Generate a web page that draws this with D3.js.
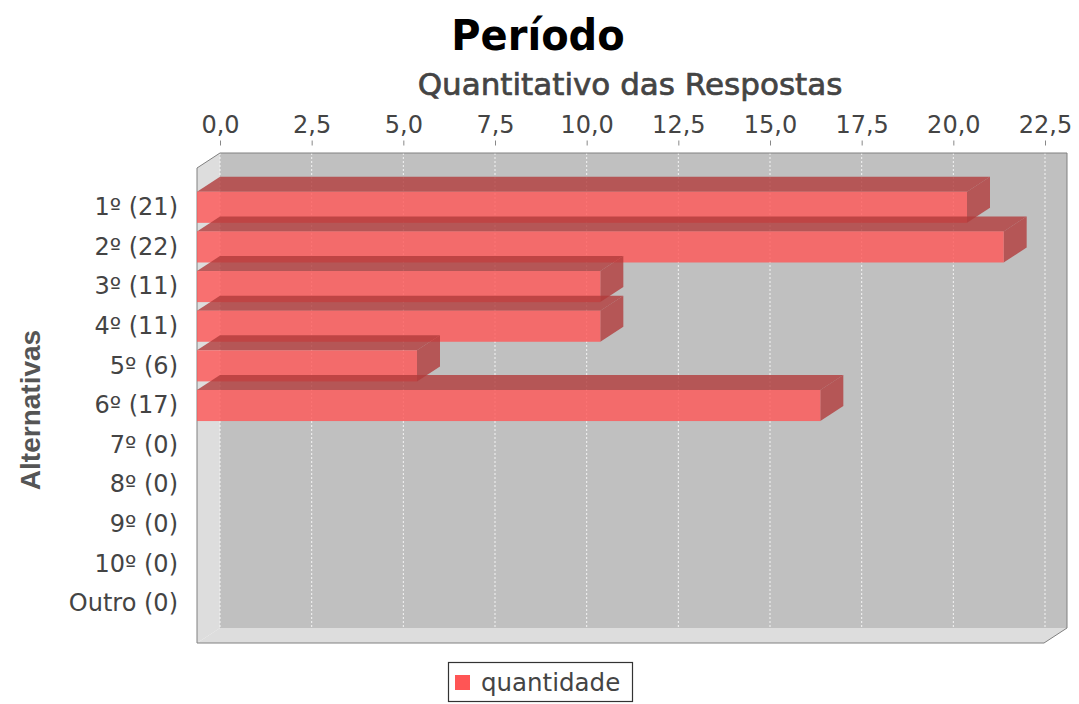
<!DOCTYPE html>
<html><head><meta charset="utf-8">
<script src="https://cdn.jsdelivr.net/npm/d3@7"></script>
<style>html,body{margin:0;padding:0;background:#fff}svg{display:block}</style>
</head><body>
<script>
// ---- data ----
const categories = ["1º (21)","2º (22)","3º (11)","4º (11)","5º (6)","6º (17)","7º (0)","8º (0)","9º (0)","10º (0)","Outro (0)"];
const values = [21,22,11,11,6,17,0,0,0,0,0];
const xTicks = [0,2.5,5,7.5,10,12.5,15,17.5,20,22.5];
const seriesName = "quantidade";
const chartTitle = "Período";
const xTitle = "Quantitativo das Respostas";
const yTitle = "Alternativas";

const W = 1079, H = 704;
const svg = d3.select("body").append("svg").attr("width", W).attr("height", H);

// plot geometry (front face and 3D offset)
const fx0 = 197, fx1 = 1044, fy0 = 168, fy1 = 643;
const dx = 23, dy = -15;
const xMax = 23.1;

const xFront = d3.scaleLinear().domain([0, xMax]).range([fx0, fx1]);
const xRear = d3.scaleLinear().domain([0, xMax]).range([fx0 + dx, fx1 + dx]);
const y = d3.scaleBand().domain(categories).range([fy0, fy1])
  .paddingInner(0.2157).paddingOuter(0.599);

const base = "#ff5555", dark = "#b23b3b", alpha = 0.8;

// walls
const g = svg.append("g");
g.append("rect").attr("x", fx0 + dx).attr("y", fy0 + dy)
  .attr("width", fx1 - fx0).attr("height", fy1 - fy0).attr("fill", "#c0c0c0");
g.append("path").attr("d", `M${fx0},${fy0}L${fx0+dx},${fy0+dy}L${fx0+dx},${fy1+dy}L${fx0},${fy1}Z`).attr("fill", "#dddddd");
g.append("path").attr("d", `M${fx0},${fy1}L${fx0+dx},${fy1+dy}L${fx1+dx},${fy1+dy}L${fx1},${fy1}Z`).attr("fill", "#dddddd");

// gridlines on rear wall
g.selectAll("line.grid").data(xTicks).join("line").attr("class","grid")
  .attr("x1", d => xRear(d)).attr("x2", d => xRear(d))
  .attr("y1", fy0 + dy).attr("y2", fy1 + dy)
  .attr("stroke", "#f4f4f4").attr("stroke-width", 1).attr("stroke-dasharray", "2,2");

// outline
g.append("path").attr("d", `M${fx0},${fy1}L${fx0},${fy0}L${fx0+dx},${fy0+dy}L${fx1+dx},${fy0+dy}L${fx1+dx},${fy1+dy}L${fx1},${fy1}Z`)
  .attr("fill", "none").attr("stroke", "#808080").attr("stroke-width", 1);

// bars
const bars = svg.append("g");
categories.forEach((c, i) => {
  const v = values[i];
  if (v <= 0) return;
  const y0 = y(c), y1 = y(c) + y.bandwidth();
  const x0 = xFront(0), x1 = xFront(v);
  const bg = bars.append("g");
  bg.append("path").attr("d", `M${x0},${y0}L${x0+dx},${y0+dy}L${x1+dx},${y0+dy}L${x1},${y0}Z`)
    .attr("fill", dark).attr("fill-opacity", alpha);
  bg.append("path").attr("d", `M${x1},${y0}L${x1+dx},${y0+dy}L${x1+dx},${y1+dy}L${x1},${y1}Z`)
    .attr("fill", dark).attr("fill-opacity", alpha);
  bg.append("rect").attr("x", x0).attr("y", y0).attr("width", x1 - x0).attr("height", y1 - y0)
    .attr("fill", base).attr("fill-opacity", alpha);
});

// top axis
const axis = d3.axisTop(xRear).tickValues(xTicks).tickSize(5).tickPadding(8)
  .tickFormat(d => d3.format(".1f")(d).replace(".", ","));
const ax = svg.append("g").attr("transform", "translate(0,145.5)").call(axis);
ax.select(".domain").remove();
ax.selectAll(".tick line").attr("stroke", "#888");
ax.selectAll(".tick text").attr("fill", "#444").style("font-family", "DejaVu Sans").style("font-size", "24px");

// category labels
const yAxis = d3.axisLeft(y).tickSize(0).tickPadding(19);
const ay = svg.append("g").attr("transform", `translate(${fx0},0)`).call(yAxis);
ay.select(".domain").remove();
ay.selectAll(".tick text").attr("fill", "#444").style("font-family", "DejaVu Sans").style("font-size", "24px");

// titles
svg.append("text").attr("transform", "translate(538,50) scale(1,1.07)").attr("text-anchor", "middle")
  .style("font-family", "DejaVu Sans").style("font-weight", "bold").style("font-size", "40px")
  .attr("fill", "#000").text(chartTitle);
svg.append("text").attr("x", 630).attr("y", 95).attr("text-anchor", "middle")
  .style("font-family", "DejaVu Sans").style("font-size", "31px")
  .attr("fill", "#444").attr("stroke", "#444").attr("stroke-width", 0.7).text(xTitle);
svg.append("text").attr("transform", "translate(40,410) rotate(-90)").attr("text-anchor", "middle")
  .style("font-family", "Liberation Sans").style("font-weight", "bold").style("font-size", "28px")
  .attr("fill", "#555").text(yTitle);

// legend
const lg = svg.append("g");
lg.append("rect").attr("x", 448.5).attr("y", 662.5).attr("width", 184).attr("height", 39)
  .attr("fill", "#fff").attr("stroke", "#333").attr("stroke-width", 1.2);
lg.append("rect").attr("x", 455).attr("y", 675).attr("width", 15).attr("height", 15).attr("fill", base);
lg.append("text").attr("x", 481).attr("y", 691)
  .style("font-family", "DejaVu Sans").style("font-size", "24.5px").attr("fill", "#444").text(seriesName);
</script>
</body></html>
